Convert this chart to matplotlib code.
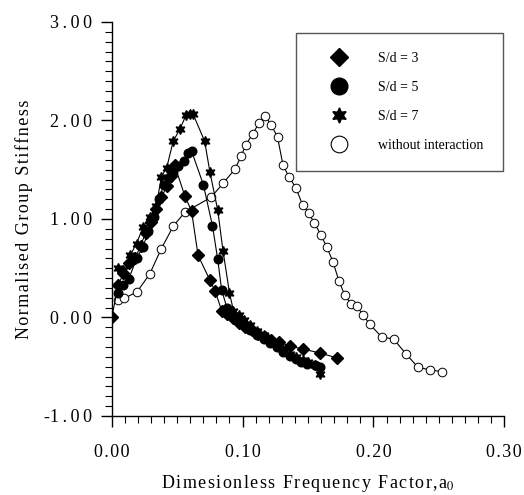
import numpy as np
import matplotlib
matplotlib.use("Agg")
import matplotlib.pyplot as plt
from matplotlib.lines import Line2D
from matplotlib.ticker import MultipleLocator, FuncFormatter

plt.rcParams['font.family'] = ['Liberation Serif', 'DejaVu Serif']
plt.rcParams['mathtext.fontset'] = 'stix'

# --- S/d = 3 (diamonds) ---
x_sd3 = [0.000, 0.005, 0.009, 0.013, 0.018, 0.022, 0.026, 0.030, 0.034, 0.038, 0.042,
         0.045, 0.048, 0.056, 0.061, 0.066, 0.075, 0.079, 0.084, 0.088, 0.093, 0.097,
         0.102, 0.107, 0.112, 0.117, 0.122, 0.128, 0.136, 0.146, 0.159, 0.172]
y_sd3 = [0.00, 0.33, 0.45, 0.55, 0.60, 0.73, 0.86, 0.97, 1.10, 1.22, 1.33,
         1.44, 1.55, 1.23, 1.08, 0.63, 0.38, 0.27, 0.07, 0.04, -0.01, -0.06,
         -0.10, -0.13, -0.17, -0.20, -0.23, -0.25, -0.29, -0.32, -0.36, -0.41]

# --- S/d = 5 (filled circles) ---
x_sd5 = [0.005, 0.009, 0.013, 0.019, 0.024, 0.028, 0.032, 0.036, 0.040, 0.044, 0.047,
         0.051, 0.055, 0.058, 0.061, 0.070, 0.077, 0.081, 0.084, 0.088, 0.092, 0.097,
         0.101, 0.106, 0.111, 0.116, 0.121, 0.126, 0.131, 0.136, 0.141, 0.145, 0.149,
         0.155, 0.159]
y_sd5 = [0.25, 0.33, 0.39, 0.60, 0.72, 0.88, 1.02, 1.20, 1.35, 1.42, 1.48,
         1.54, 1.59, 1.67, 1.69, 1.35, 0.93, 0.59, 0.28, 0.10, 0.04, -0.02,
         -0.07, -0.13, -0.18, -0.22, -0.26, -0.30, -0.35, -0.39, -0.42, -0.45, -0.47,
         -0.48, -0.50]

# --- S/d = 7 (stars) ---
x_sd7 = [0.005, 0.009, 0.014, 0.019, 0.024, 0.029, 0.034, 0.038, 0.042, 0.047, 0.052,
         0.057, 0.060, 0.062, 0.071, 0.075, 0.081, 0.085, 0.090, 0.093, 0.097, 0.101,
         0.106, 0.111, 0.116, 0.121, 0.126, 0.131, 0.136, 0.141, 0.146, 0.150, 0.155,
         0.158, 0.159]
y_sd7 = [0.50, 0.48, 0.63, 0.75, 0.92, 1.02, 1.13, 1.43, 1.52, 1.79, 1.91,
         2.06, 2.07, 2.07, 1.79, 1.48, 1.09, 0.68, 0.25, 0.07, 0.03, -0.03,
         -0.08, -0.14, -0.18, -0.23, -0.28, -0.33, -0.37, -0.40, -0.43, -0.45, -0.48,
         -0.50, -0.57]

# --- without interaction (open circles) ---
x_free = [0.0048, 0.0094, 0.0193, 0.0290, 0.0377, 0.0472, 0.0560, 0.0759, 0.0853, 0.0942,
          0.0990, 0.1026, 0.1077, 0.1127, 0.1171, 0.1217, 0.1267, 0.1309, 0.1356, 0.1408,
          0.1458, 0.1505, 0.1547, 0.1597, 0.1642, 0.1690, 0.1736, 0.1780, 0.1827, 0.1872,
          0.1920, 0.1970, 0.2063, 0.2154, 0.2248, 0.2340, 0.2432, 0.2526]
y_free = [0.178, 0.193, 0.260, 0.440, 0.694, 0.930, 1.070, 1.220, 1.365, 1.506,
          1.643, 1.755, 1.864, 1.976, 2.050, 1.958, 1.833, 1.544, 1.426, 1.314,
          1.144, 1.060, 0.963, 0.842, 0.720, 0.568, 0.373, 0.229, 0.142, 0.117,
          0.025, -0.066, -0.198, -0.219, -0.368, -0.506, -0.531, -0.551]

labels = ['S/d = 3', 'S/d = 5', 'S/d = 7', 'without interaction']

star6 = (6, 1, 0)
HAIR = '\u200a'
THIN = '\u2009'


def spaced(s, sp=HAIR):
    # fake the letter spacing of the original typesetting
    return sp.join(s)


def ytick_fmt(v, pos):
    s = '%.2f' % abs(v)
    return ('-' if v < 0 else '') + spaced(s, THIN)


fig = plt.figure(figsize=(5.24, 4.95), dpi=100)
ax = fig.add_axes([0.2132, 0.1596, 0.7492, 0.7960])

lw = 0.8
ax.plot(x_free, y_free, color='black', lw=lw, marker='o', ms=6.2,
        mfc='white', mec='black', mew=0.7, zorder=2)
ax.plot(x_sd3, y_sd3, color='black', lw=lw, marker='D', ms=5.8, mfc='black', mec='black', zorder=3)
ax.plot(x_sd5, y_sd5, color='black', lw=lw, marker='o', ms=6.2, mfc='black', mec='black', zorder=3)
ax.plot(x_sd7, y_sd7, color='black', lw=lw, marker=star6, ms=7.2, mfc='black', mec='black', zorder=3)

ax.set_xlim(0, 0.30)
ax.set_ylim(-1.0, 3.0)
ax.xaxis.set_major_locator(MultipleLocator(0.10))
ax.xaxis.set_minor_locator(MultipleLocator(0.01))
ax.yaxis.set_major_locator(MultipleLocator(1.0))
ax.yaxis.set_minor_locator(MultipleLocator(0.1))
ax.xaxis.set_major_formatter(FuncFormatter(lambda v, p: spaced('%.2f' % v, HAIR)))
ax.yaxis.set_major_formatter(FuncFormatter(ytick_fmt))

for s in ['top', 'right']:
    ax.spines[s].set_visible(False)
for s in ['left', 'bottom']:
    ax.spines[s].set_linewidth(1.0)

ax.tick_params(which='major', direction='out', length=8, width=1.0, labelsize=13)
ax.tick_params(axis='x', which='major', pad=12)
ax.tick_params(axis='y', which='major', pad=6)
ax.tick_params(which='minor', direction='out', length=5, width=0.8)

ax.set_ylabel(spaced('Normalised Group Stiffness'), fontsize=13, labelpad=8)
ax.set_xlabel(spaced('Dimesionless Frequency Factor,a') + '$_{0}$', fontsize=13, labelpad=9)

handles = [
    Line2D([], [], ls='none', marker='D', ms=9, mfc='black', mec='black'),
    Line2D([], [], ls='none', marker='o', ms=12, mfc='black', mec='black'),
    Line2D([], [], ls='none', marker=star6, ms=11, mfc='black', mec='black'),
    Line2D([], [], ls='none', marker='o', ms=12, mfc='white', mec='black', mew=0.8),
]
leg = ax.legend(handles, labels, loc='upper left', bbox_to_anchor=(0.469, 0.973),
                frameon=True, fancybox=False, edgecolor='#555555', framealpha=1,
                fontsize=10, labelspacing=1.15, handletextpad=1.15, borderpad=1.4,
                handlelength=3.4, borderaxespad=0)
leg.get_frame().set_linewidth(1.0)

fig.savefig('out.png', dpi=100)
